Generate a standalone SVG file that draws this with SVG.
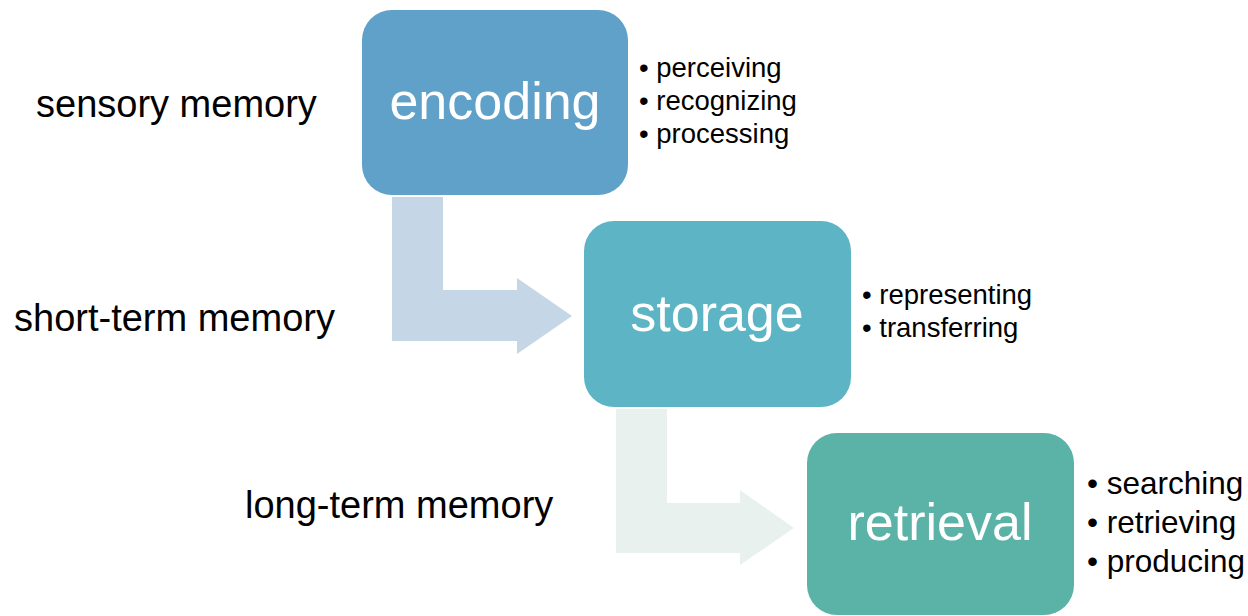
<svg xmlns="http://www.w3.org/2000/svg" width="1248" height="616" viewBox="0 0 1248 616">
<style>
.lbl{font-family:"Liberation Sans",Arial,sans-serif;font-size:38px;fill:#000}
.big{font-family:"Liberation Sans",Arial,sans-serif;font-size:52px;fill:#fff;text-anchor:middle}
.bul{font-family:"Liberation Sans",Arial,sans-serif;font-size:27.5px;fill:#000}
.bul2{font-family:"Liberation Sans",Arial,sans-serif;font-size:31.5px;fill:#000}
</style>
<rect width="1248" height="616" fill="#fff"/>
<g id="connectors">
<polygon points="392,197 443,197 443,290 517,290 517,278 572,316 517,354 517,341 392,341" fill="#c5d7e7"/>
<polygon points="616,409 667,409 667,503 740,503 740,490 794,528 740,565 740,553 616,553" fill="#e8f1ee"/>
</g>
<g id="labels">
<text class="lbl" x="36" y="117">sensory memory</text>
<text class="lbl" x="14" y="331">short-term memory</text>
<text class="lbl" x="245" y="518">long-term memory</text>
</g>
<g id="encoding">
<rect x="362" y="10" width="266" height="185" rx="30" fill="#5fa1c9"/>
<text class="big" x="495" y="119">encoding</text>
<text class="bul" x="639" y="77">• perceiving</text>
<text class="bul" x="639" y="110">• recognizing</text>
<text class="bul" x="639" y="143">• processing</text>
</g>
<g id="storage">
<rect x="584" y="221" width="267" height="186" rx="30" fill="#5db4c4"/>
<text class="big" x="717" y="331">storage</text>
<text class="bul" x="862" y="304">• representing</text>
<text class="bul" x="862" y="337">• transferring</text>
</g>
<g id="retrieval">
<rect x="807" y="433" width="267" height="182" rx="30" fill="#5bb2a7"/>
<text class="big" x="940" y="540">retrieval</text>
<text class="bul2" x="1087" y="494">• searching</text>
<text class="bul2" x="1087" y="533">• retrieving</text>
<text class="bul2" x="1087" y="572">• producing</text>
</g>
</svg>
